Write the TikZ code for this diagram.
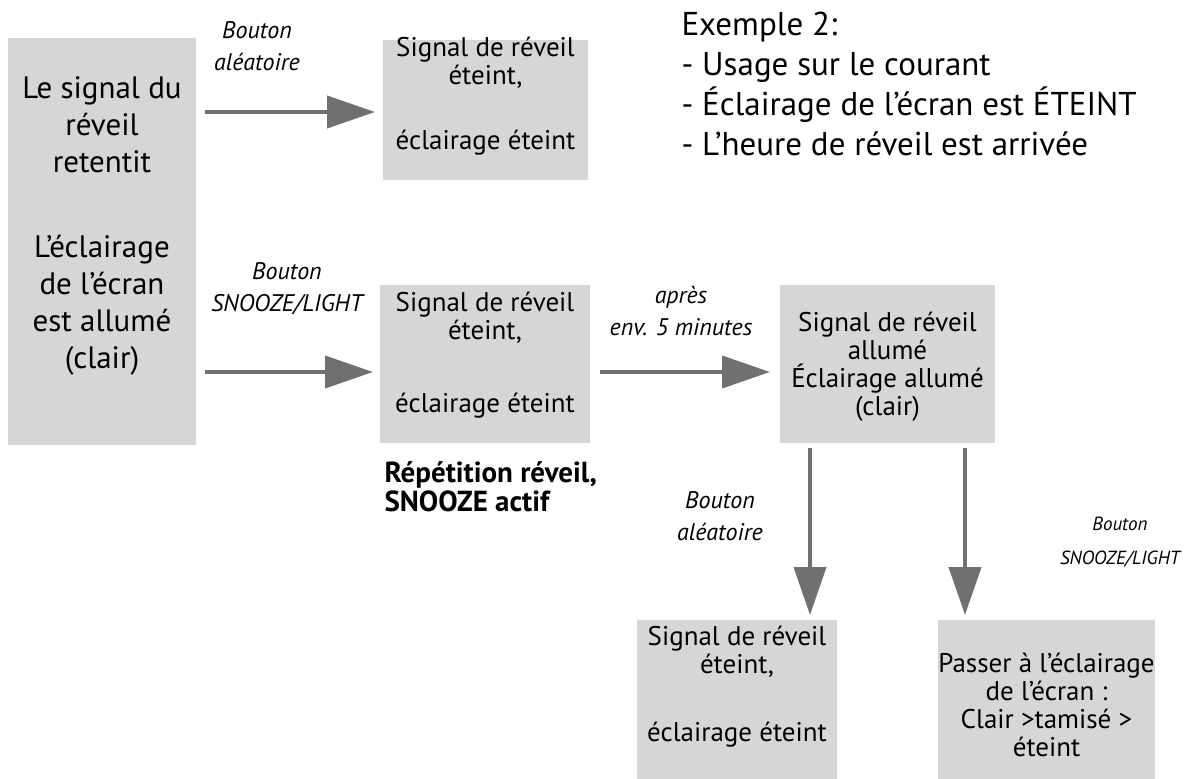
\documentclass[tikz,border=0pt]{standalone}
\usepackage{fontspec}
\setmainfont{PT Sans}
\usetikzlibrary{arrows.meta}
\definecolor{boxg}{HTML}{D6D6D6}
\definecolor{arrg}{HTML}{707070}
\begin{document}
\begin{tikzpicture}[x=1pt,y=-1pt,
  box/.style={fill=boxg,draw=none,inner sep=0pt,align=center},
  arr/.style={draw=arrg,line width=4pt,-{Triangle[length=48pt,width=32pt]}},
  lab/.style={font=\fontsize{24}{32}\selectfont\itshape,align=center},
  bt/.style={font=\fontsize{27}{28}\selectfont,align=center}]
\useasboundingbox (0,0) rectangle (1187,779);
% boxes
\node[box,minimum width=188pt,minimum height=407pt] (L) at (102,241.5) {};
\node[bt,font=\fontsize{31}{37}\selectfont] (Lt1) at (102,125) {Le signal du\\réveil\\retentit};
\node[bt,font=\fontsize{31}{37}\selectfont] (Lt2) at (102,305) {L’éclairage\\de l’écran\\est allumé\\(clair)};
\node[box,minimum width=205pt,minimum height=140pt] (B2) at (485.5,110) {};
\node[bt] at (485.5,63) {Signal de réveil\\éteint,};
\node[bt] at (485.5,143) {éclairage éteint};
\node[box,minimum width=210pt,minimum height=158pt] (B3) at (485,364) {};
\node[bt] at (485,318) {Signal de réveil\\éteint,};
\node[bt] at (485,406) {éclairage éteint};
\node[font=\fontsize{29}{29}\selectfont\bfseries,align=left,anchor=north west] (rep) at (381,458) {Répétition réveil,\\SNOOZE actif};
\node[box,minimum width=215pt,minimum height=158pt] (B4) at (887.5,364) {};
\node[bt] at (887.5,367) {Signal de réveil\\allumé\\Éclairage allumé\\(clair)};
\node[box,minimum width=200pt,minimum height=160pt] (B5) at (737,700) {};
\node[bt] at (737,652) {Signal de réveil\\éteint,};
\node[bt] at (737,735) {éclairage éteint};
\node[box,minimum width=217pt,minimum height=160pt] (B6) at (1046.5,700) {};
\node[bt] at (1046.5,705) {Passer à l’éclairage\\de l’écran :\\Clair >tamisé >\\éteint};
% coordinates
\coordinate (a1s) at (205,112); \coordinate (a1e) at (375,112);
\coordinate (a2s) at (205,372); \coordinate (a2e) at (373,372);
\coordinate (a3s) at (600,372); \coordinate (a3e) at (770,372);
\coordinate (a4s) at (810,448); \coordinate (a4e) at (810,615);
\coordinate (a5s) at (965,448); \coordinate (a5e) at (965,615);
\draw[arr] (a1s) -- (a1e);
\draw[arr] (a2s) -- (a2e);
\draw[arr] (a3s) -- (a3e);
\draw[arr] (a4s) -- (a4e);
\draw[arr] (a5s) -- (a5e);
% labels
\node[lab] at (257,46) {Bouton\\aléatoire};
\node[lab] at (287,289) {Bouton\\SNOOZE/LIGHT};
\node[lab] at (681,311) {après\\env. 5 minutes};
\node[lab] at (720,516) {Bouton\\aléatoire};
\node[lab,font=\fontsize{19}{34}\selectfont\itshape] at (1120,542) {Bouton\\SNOOZE/LIGHT};
% example text
\node[font=\fontsize{33}{40}\selectfont,align=left,anchor=north west] (ex) at (678,8) {Exemple 2:\\- Usage sur le courant\\- Éclairage de l’écran est ÉTEINT\\- L’heure de réveil est arrivée};
\end{tikzpicture}
\end{document}
